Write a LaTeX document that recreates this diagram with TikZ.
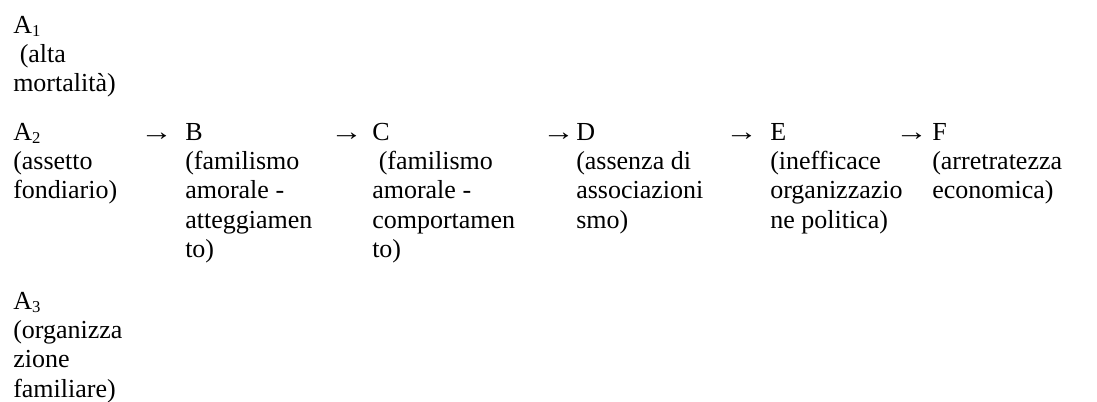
\documentclass[tikz,border=0pt]{standalone}
\usepackage{fontspec}
\setmainfont{Liberation Serif}
\newcommand{\idx}[1]{\raisebox{-0.12em}{\fontsize{12.5pt}{12.5pt}\selectfont #1}}
\begin{document}
\begin{tikzpicture}[x=0.75pt,y=-0.75pt,
  cell/.style={anchor=base west, inner sep=0pt, font=\fontsize{19.5pt}{22pt}\selectfont},
  arrowglyph/.style={anchor=base west, inner sep=0pt, font=\fontsize{19.5pt}{22pt}\selectfont}]
\useasboundingbox (0,0) rectangle (1097,401);

% causes
\node[cell] (a1) at (13,33) {\begin{tabular}[t]{@{}l@{}}A\idx{1}\\ \ (alta\\ mortalità)\end{tabular}};
\node[cell] (a2) at (13,140) {\begin{tabular}[t]{@{}l@{}}A\idx{2}\\ (assetto\\ fondiario)\end{tabular}};
\node[cell] (a3) at (13,309) {\begin{tabular}[t]{@{}l@{}}A\idx{3}\\ (organizza\\ zione\\ familiare)\end{tabular}};

% chain of effects
\node[cell] (b) at (185,140) {\begin{tabular}[t]{@{}l@{}}B\\ (familismo\\ amorale -\\ atteggiamen\\ to)\end{tabular}};
\node[cell] (c) at (372,140) {\begin{tabular}[t]{@{}l@{}}C\\ \ (familismo\\ amorale -\\ comportamen\\ to)\end{tabular}};
\node[cell] (d) at (576,140) {\begin{tabular}[t]{@{}l@{}}D\\ (assenza di\\ associazioni\\ smo)\end{tabular}};
\node[cell] (e) at (770,140) {\begin{tabular}[t]{@{}l@{}}E\\ (inefficace\\ organizzazio\\ ne politica)\end{tabular}};
\node[cell] (f) at (932,140) {\begin{tabular}[t]{@{}l@{}}F\\ (arretratezza\\ economica)\end{tabular}};

% arrows between the steps
\node[arrowglyph] (ab) at (140,140) {\scalebox{1.25}[1]{→}};
\node[arrowglyph] (bc) at (330,140) {\scalebox{1.25}[1]{→}};
\node[arrowglyph] (cd) at (542,140) {\scalebox{1.25}[1]{→}};
\node[arrowglyph] (de) at (725,140) {\scalebox{1.25}[1]{→}};
\node[arrowglyph] (ef) at (895,140) {\scalebox{1.25}[1]{→}};
\end{tikzpicture}
\end{document}
